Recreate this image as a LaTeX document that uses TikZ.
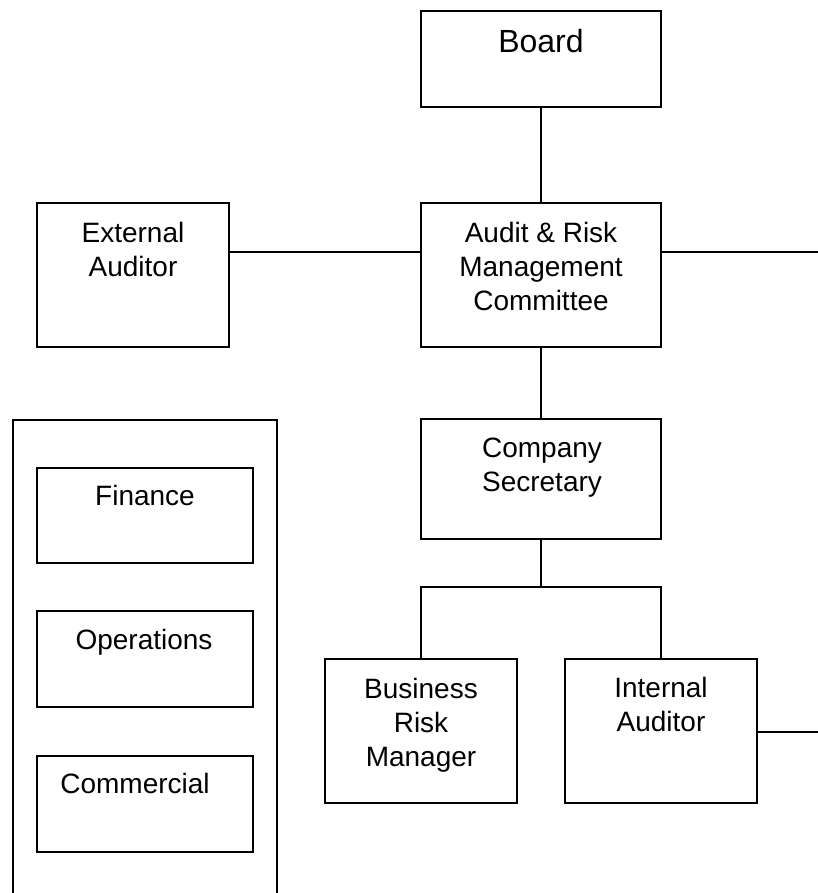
\documentclass[tikz,border=0pt]{standalone}
\usepackage{fontspec}
\setmainfont{Liberation Sans}
\begin{document}
\begin{tikzpicture}[x=1pt,y=1pt,
  box/.style={draw=black, line width=1.6pt, rectangle, inner sep=0pt, fill=none},
  txt/.style={inner sep=0pt, anchor=north, align=center, font=\fontsize{28}{34}\selectfont},
  bigtxt/.style={inner sep=0pt, anchor=north, align=center, font=\fontsize{32}{38}\selectfont},
  conn/.style={line width=1.6pt}]
\useasboundingbox[fill=white] (0,0) rectangle (818,-893);
% boxes
\node[box, minimum width=240pt, minimum height=96pt] (board) at (541,-59) {};
\node[box, minimum width=240pt, minimum height=144pt] (armc) at (541,-275) {};
\node[box, minimum width=192pt, minimum height=144pt] (ext) at (133,-275) {};
\node[box, minimum width=240pt, minimum height=120pt] (cs) at (541,-479) {};
\node[box, minimum width=192pt, minimum height=144pt] (brm) at (421,-731) {};
\node[box, minimum width=192pt, minimum height=144pt] (ia) at (661,-731) {};
\node[box, minimum width=216pt, minimum height=95pt] (fin) at (145,-515.5) {};
\node[box, minimum width=216pt, minimum height=96pt] (ops) at (145,-659) {};
\node[box, minimum width=216pt, minimum height=96pt] (com) at (145,-804) {};
% texts
\node[bigtxt] (tboard) at (541,-29) {Board};
\node[txt] (tarmc) at (541,-222) {Audit \& Risk\\Management\\Committee};
\node[txt] (text) at (133,-222) {External\\Auditor};
\node[txt] (tcs) at (542,-438) {Company\\Secretary};
\node[txt] (tbrm) at (421,-678) {Business\\Risk\\Manager};
\node[txt] (tia) at (661,-677) {Internal\\Auditor};
\node[txt] (tfin) at (145,-485) {Finance};
\node[txt] (tops) at (144,-629) {Operations};
\node[txt] (tcom) at (135,-773) {Commercial};
% outer panel (open at bottom edge)
\draw[conn] (13,-893) -- (13,-420) -- (277,-420) -- (277,-893);
% connectors
\coordinate (rtop) at (818,-252);
\coordinate (rbot) at (818,-732);
\coordinate (split) at (541,-587);
\draw[conn] (board.south) -- (armc.north);
\draw[conn] (ext.east |- 0,-252) -- (armc.west |- 0,-252);
\draw[conn] (armc.east |- rtop) -- (rtop);
\draw[conn] (armc.south) -- (cs.north);
\draw[conn] (cs.south) -- (split);
\draw[conn] (brm.north) -- (brm.north |- split) -- (ia.north |- split) -- (ia.north);
\draw[conn] (ia.east |- rbot) -- (rbot);
\end{tikzpicture}
\end{document}
